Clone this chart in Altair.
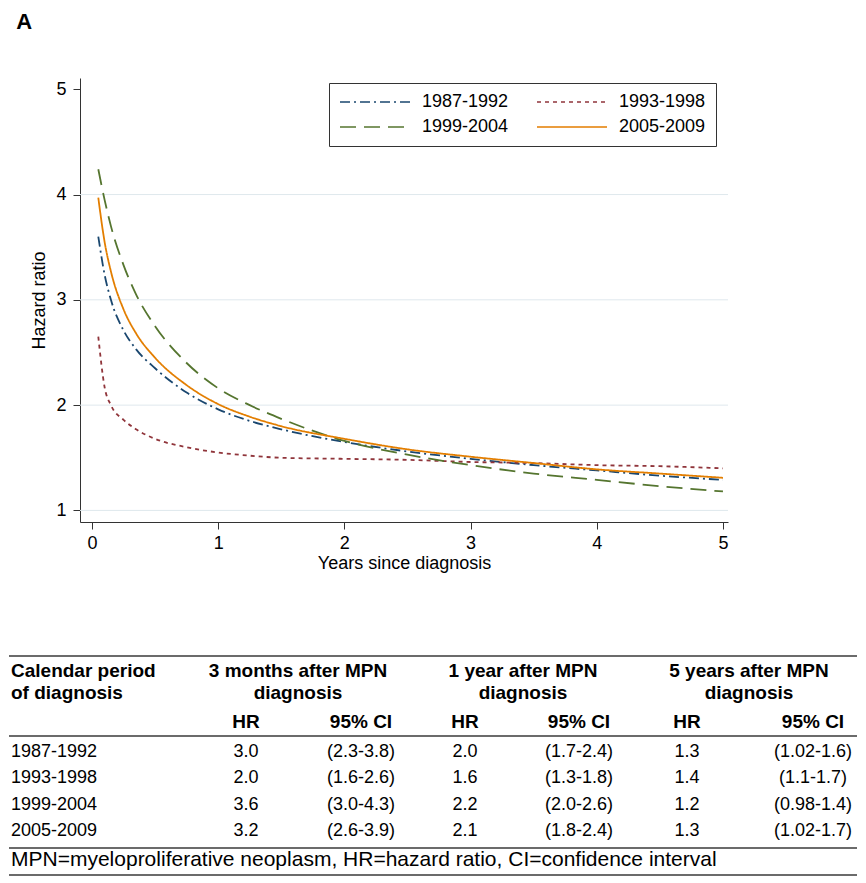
import altair as alt
import pandas as pd

# ---------------- data: hazard-ratio curves ----------------
YEARS = [0.05, 0.1, 0.15, 0.25, 0.35, 0.5, 0.75, 1.0, 1.25, 1.5, 2.0, 2.5, 3.0, 3.5, 4.0, 4.5, 5.0]
HR_1987_1992 = [3.60, 3.24, 3.00, 2.71, 2.53, 2.35, 2.12, 1.96, 1.85, 1.77, 1.65, 1.56, 1.49, 1.43, 1.38, 1.33, 1.29]
HR_1993_1998 = [2.65, 2.17, 2.00, 1.86, 1.77, 1.68, 1.60, 1.55, 1.52, 1.50, 1.49, 1.48, 1.46, 1.45, 1.43, 1.42, 1.40]
HR_1999_2004 = [4.24, 3.95, 3.70, 3.33, 3.05, 2.75, 2.40, 2.16, 2.00, 1.87, 1.66, 1.53, 1.43, 1.35, 1.29, 1.23, 1.18]
HR_2005_2009 = [3.97, 3.55, 3.27, 2.91, 2.68, 2.45, 2.19, 2.01, 1.89, 1.80, 1.68, 1.58, 1.51, 1.45, 1.39, 1.35, 1.31]
PERIODS = ["1987-1992", "1993-1998", "1999-2004", "2005-2009"]
X_TICKS = [0, 1, 2, 3, 4, 5]
Y_TICKS = [1, 2, 3, 4, 5]
GRID_Y = [1, 2, 3, 4]

# ---------------- data: table ----------------
TABLE_PERIODS = ["1987-1992", "1993-1998", "1999-2004", "2005-2009"]
HR_3M = ["3.0", "2.0", "3.6", "3.2"]
CI_3M = ["(2.3-3.8)", "(1.6-2.6)", "(3.0-4.3)", "(2.6-3.9)"]
HR_1Y = ["2.0", "1.6", "2.2", "2.1"]
CI_1Y = ["(1.7-2.4)", "(1.3-1.8)", "(2.0-2.6)", "(1.8-2.4)"]
HR_5Y = ["1.3", "1.4", "1.2", "1.3"]
CI_5Y = ["(1.02-1.6)", "(1.1-1.7)", "(0.98-1.4)", "(1.02-1.7)"]
HEAD_PERIOD = ["Calendar period", "of diagnosis"]
HEAD_GROUPS = [["3 months after MPN", "diagnosis"], ["1 year after MPN", "diagnosis"], ["5 years after MPN", "diagnosis"]]
HEAD_SUB = ["HR", "95% CI"]
FOOTNOTE = "MPN=myeloproliferative neoplasm, HR=hazard ratio, CI=confidence interval"

# ---------------- style / layout ----------------
FONT = "Liberation Sans"
COLORS = ["#1a476f", "#90353b", "#55752f", "#e37e00"]
DASHES = [[10, 4, 2, 4], [4, 4], [16, 8], [1, 0]]
PLOT_W, PLOT_H = 648, 444
TABLE_W, TABLE_H = 648, 229
# column anchors (table-local px; plot origin is shared with the curve panel)
COL_X = {"period": -69, "g1": 218, "g2": 443, "g3": 669,
         "hr1": 166, "hr2": 385, "hr3": 607,
         "ci1": 281, "ci2": 499, "ci3": 733,
         "left": -71, "right": 777}
ROW_Y = {"top": 9, "h1": 30, "h2": 52, "h3": 81, "mid": 89,
         "r0": 110, "r1": 136, "r2": 163, "r3": 189,
         "low": 201, "foot": 219, "bottom": 228}

# ---------------- curves panel ----------------
series = {PERIODS[0]: HR_1987_1992, PERIODS[1]: HR_1993_1998,
          PERIODS[2]: HR_1999_2004, PERIODS[3]: HR_2005_2009}
rows = []
for p, vals in series.items():
    for x, v in zip(YEARS, vals):
        rows.append({"years": x, "hr": v, "period": p})
df = pd.DataFrame(rows)

xscale = alt.Scale(domain=[-0.095, 5.04], nice=False, zero=False)
yscale = alt.Scale(domain=[0.89, 5.107], nice=False, zero=False)
XAXIS = alt.Axis(values=X_TICKS, format="d", title="Years since diagnosis", grid=False)
YAXIS = alt.Axis(values=Y_TICKS, format="d", title="Hazard ratio", grid=False)

legend = alt.Legend(title=None, orient="none", legendX=249, legendY=5, columns=2,
                    direction="horizontal", clipHeight=18,
                    symbolType="stroke", symbolSize=4900, symbolStrokeWidth=1.6,
                    labelFont=FONT, labelFontSize=18, labelColor="black", labelOffset=11,
                    padding=10, strokeColor="#333333", fillColor="white",
                    columnPadding=27, rowPadding=7)

grid = alt.Chart(pd.DataFrame({"g": GRID_Y})).mark_rule(color="#dfe8ed", strokeWidth=1).encode(
    y=alt.Y("g:Q", scale=yscale, axis=YAXIS)
)
lines = alt.Chart(df).mark_line(strokeWidth=1.8, interpolate="monotone").encode(
    x=alt.X("years:Q", scale=xscale, axis=XAXIS),
    y=alt.Y("hr:Q", scale=yscale, axis=YAXIS),
    color=alt.Color("period:N", scale=alt.Scale(domain=PERIODS, range=COLORS), legend=legend),
    strokeDash=alt.StrokeDash("period:N", scale=alt.Scale(domain=PERIODS, range=DASHES), legend=legend),
)
top = alt.layer(grid, lines).properties(width=PLOT_W, height=PLOT_H)

# ---------------- table panel ----------------
cells = []
def add(text, col, row, kind, align):
    cells.append({"text": text, "x": COL_X[col], "y": ROW_Y[row], "kind": kind, "align": align})

add(HEAD_PERIOD[0], "period", "h1", "head", "left")
add(HEAD_PERIOD[1], "period", "h2", "head", "left")
for i, (l1, l2) in enumerate(HEAD_GROUPS):
    add(l1, f"g{i+1}", "h1", "head", "center")
    add(l2, f"g{i+1}", "h2", "head", "center")
    add(HEAD_SUB[0], f"hr{i+1}", "h3", "head", "center")
    add(HEAD_SUB[1], f"ci{i+1}", "h3", "head", "center")
for r, p in enumerate(TABLE_PERIODS):
    add(p, "period", f"r{r}", "body", "left")
    for i, (hr, ci) in enumerate([(HR_3M, CI_3M), (HR_1Y, CI_1Y), (HR_5Y, CI_5Y)]):
        add(hr[r], f"hr{i+1}", f"r{r}", "body", "center")
        add(ci[r], f"ci{i+1}", f"r{r}", "body", "center")
add(FOOTNOTE, "period", "foot", "foot", "left")
tdf = pd.DataFrame(cells)

rules_df = pd.DataFrame({"x": [COL_X["left"]] * 4, "x2": [COL_X["right"]] * 4,
                         "y": [ROW_Y["top"], ROW_Y["mid"], ROW_Y["low"], ROW_Y["bottom"]]})

tx = alt.Scale(domain=[0, TABLE_W], range=[0, TABLE_W], nice=False, zero=False)
ty = alt.Scale(domain=[TABLE_H, 0], nice=False, zero=False)

STYLE = {"head": (19, "bold"), "body": (18, "normal"), "foot": (21, "normal")}

def text_layer(kind, align):
    size, weight = STYLE[kind]
    return alt.Chart(tdf).transform_filter(
        (alt.datum.kind == kind) & (alt.datum.align == align)
    ).mark_text(font=FONT, fontSize=size, fontWeight=weight,
                align=align, baseline="alphabetic", color="black").encode(
        x=alt.X("x:Q", scale=tx, axis=None),
        y=alt.Y("y:Q", scale=ty, axis=None),
        text="text:N",
    )

rules = alt.Chart(rules_df).mark_rule(color="#3a3a3a", strokeWidth=1.6).encode(
    x=alt.X("x:Q", scale=tx, axis=None),
    x2="x2:Q",
    y=alt.Y("y:Q", scale=ty, axis=None),
)
table = alt.layer(rules, text_layer("head", "left"), text_layer("head", "center"),
                  text_layer("body", "left"), text_layer("body", "center"),
                  text_layer("foot", "left")).properties(width=TABLE_W, height=TABLE_H)

chart = alt.vconcat(top, table, spacing=125, bounds="flush").properties(
    padding={"top": 3, "left": 0, "right": 0, "bottom": 0},
    title=alt.TitleParams("A", anchor="start", font=FONT, fontSize=22, fontWeight="bold",
                          color="black", dx=8, offset=44),
).configure_view(stroke=None).configure_axis(
    labelFont=FONT, labelFontSize=18, labelColor="black",
    titleFont=FONT, titleFontSize=18, titleFontWeight="normal", titleColor="black",
    domainColor="#333333", domainWidth=1, tickColor="#333333", tickSize=7, tickWidth=1,
    labelPadding=5,
).configure_axisX(titlePadding=2).configure_axisY(labelPadding=7, titlePadding=7)

chart.save("out.html", embed_options={"renderer": "svg", "actions": False})
